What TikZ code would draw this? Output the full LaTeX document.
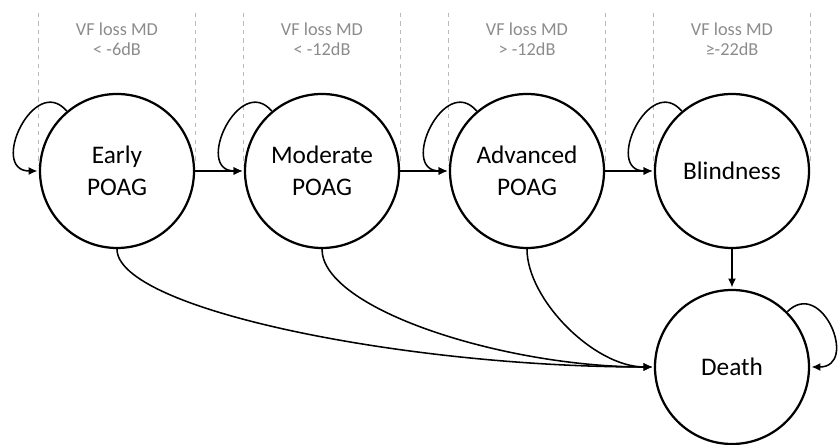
\documentclass[tikz,border=0pt]{standalone}
\usepackage{fontspec}
\setmainfont{Carlito}
\usepackage{tikz}
\usetikzlibrary{automata,positioning,arrows.meta}
\definecolor{labelgray}{RGB}{140,140,140}
\definecolor{guidegray}{RGB}{185,185,185}

\begin{document}
\begin{tikzpicture}[shorten >=1pt,node distance=5.125cm,on grid,auto,
  >={Latex[length=2.2mm,width=2mm]},
  every state/.style={draw,fill=white,line width=1.6pt,minimum size=3.85cm,
    align=center,font=\fontsize{18}{22.7}\selectfont},
  vf/.style={align=center,text=labelgray,font=\fontsize{13}{14.5}\selectfont},
  guide/.style={dashed,guidegray,line width=0.6pt}]
\useasboundingbox (0,0) rectangle (20.975,11.125);

\node[state] (q_1) at (2.925,6.85) {Early\\POAG};
\node[state] (q_2) [right=of q_1] {Moderate\\POAG};
\node[state] (q_3) [right=of q_2] {Advanced\\POAG};
\node[state] (q_4) [right=of q_3] {Blindness};
\node[state] (q_5) [below=4.9cm of q_4] {Death};

% visual field bands
\node[vf] (vf_1) [above=3.3cm of q_1] {VF loss MD\\< -6dB};
\node[vf] (vf_2) [above=3.3cm of q_2] {VF loss MD\\< -12dB};
\node[vf] (vf_3) [above=3.3cm of q_3] {VF loss MD\\> -12dB};
\node[vf] (vf_4) [above=3.3cm of q_4] {VF loss MD\\≥-22dB};

\coordinate (top) at (0,10.8);
\foreach \s in {q_1,q_2,q_3,q_4}
  \draw[guide] (\s.west |- top) -- ([yshift=1.5mm]\s.west)
               (\s.east |- top) -- ([yshift=1.5mm]\s.east);

\path[->,line width=1.1pt]
(q_1) edge node {} (q_2)
      edge [out=130,in=180,looseness=1.95] (q_1)
(q_2) edge node {} (q_3)
      edge [out=130,in=180,looseness=1.95] (q_2)
(q_3) edge node {} (q_4)
      edge [out=130,in=180,looseness=1.95] (q_3)
(q_4) edge node {} (q_5)
      edge [out=130,in=180,looseness=1.95] (q_4)
(q_5) edge [out=45,in=0,looseness=2.1] (q_5)

% to death
(q_1) edge [out=-90,in=180,out distance=1.5cm,in distance=6.25cm] (q_5)
(q_2) edge [out=-90,in=180,out distance=1.5cm,in distance=3.75cm] (q_5)
(q_3) edge [out=-90,in=180,out distance=1.25cm,in distance=1.5cm] (q_5)
;
\end{tikzpicture}
\end{document}
